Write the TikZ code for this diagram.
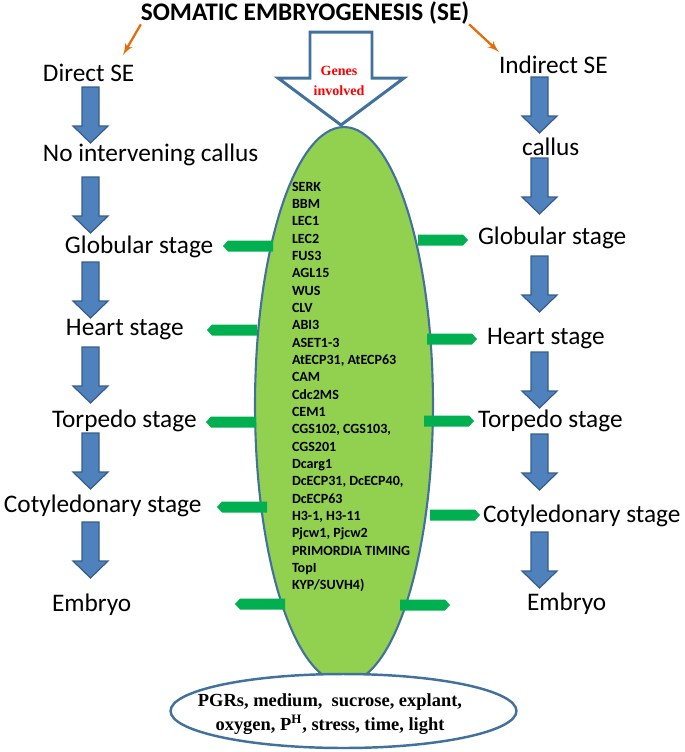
\documentclass[tikz,border=0pt]{standalone}
\usepackage{fontspec}
\setmainfont{Carlito}
\newfontfamily\timesfont{Liberation Serif}
\usepackage{tikz}
\usetikzlibrary{arrows}
\usetikzlibrary{positioning}
\usetikzlibrary{shapes.geometric}
\definecolor{stepblue}{HTML}{4F81BD}
\definecolor{stepborder}{HTML}{385D8A}
\definecolor{outlineblue}{HTML}{41719C}
\definecolor{leafgreen}{HTML}{92D050}
\definecolor{pointgreen}{HTML}{00B050}
\definecolor{titleorange}{HTML}{E46C0A}
\tikzstyle{every node}+=[inner sep=0pt, outer sep=0pt]
\tikzstyle{stage} = [font=\fontsize{14.4}{17}\selectfont, anchor=west]
\tikzstyle{orangeline} = [draw, titleorange, line width=1.3pt, -latex']
\tikzset{
  blockdown/.pic={\filldraw [fill=stepblue, draw=stepborder, line width=0.7pt]
    (-8.5,0) -- (8.5,0) -- (8.5,39) -- (17.5,39) -- (0,56) -- (-17.5,39) -- (-8.5,39) -- cycle;},
  pointer/.pic={\fill [pointgreen]
    (0,-5.5) -- (45,-5.5) -- (50,0) -- (45,5.5) -- (0,5.5) -- cycle;},
  bigarrow/.pic={\filldraw [fill=white, draw=outlineblue, line width=1.7pt]
    (-31,-93) -- (31,-93) -- (31,-47) -- (63,-47) -- (0,0) -- (-63,-47) -- (-31,-47) -- cycle;}
}

\begin{document}
\begin{tikzpicture}[x=0.02cm, y=-0.02cm]
            \useasboundingbox (0,0) rectangle (685,752);
            % Genes ellipse
            \node [ellipse, draw=outlineblue, fill=leafgreen, line width=1.2pt, minimum width=3.56cm, minimum height=11.12cm] (geneell) at (344,405) {};
            \node [anchor=north west, align=left, font=\fontsize{8}{9.86}\selectfont\bfseries] (genes) at (292,182) {SERK\\BBM\\LEC1\\LEC2\\FUS3\\AGL15\\WUS\\CLV\\ABI3\\ASET1-3\\AtECP31, AtECP63\\CAM\\Cdc2MS\\CEM1\\CGS102, CGS103,\\CGS201\\Dcarg1\\DcECP31, DcECP40,\\DcECP63\\H3-1, H3-11\\Pjcw1, Pjcw2\\PRIMORDIA TIMING\\TopI\\KYP/SUVH4)};
            % Green pointers
            \pic [rotate=180] (lp1) at (273,246) {pointer};
            \pic [rotate=180] (lp2) at (257,330) {pointer};
            \pic [rotate=180] (lp3) at (256,422) {pointer};
            \pic [rotate=180] (lp4) at (267,507) {pointer};
            \pic [rotate=180] (lp5) at (285,604) {pointer};
            \pic (rp1) at (418,240) {pointer};
            \pic (rp2) at (427,339) {pointer};
            \pic (rp3) at (424,421) {pointer};
            \pic (rp4) at (430,515) {pointer};
            \pic (rp5) at (400,605) {pointer};
            % Big arrow
            \pic (genearrow) at (341,125) {bigarrow};
            \node [align=center, text=red, font={\timesfont\fontsize{8}{11.3}\selectfont\bfseries}] (genesinv) at (339,81) {Genes\\involved};
            % Factors
            \node [ellipse, draw=outlineblue, fill=white, line width=1.4pt, minimum width=6.92cm, minimum height=1.48cm] (factors) at (343.5,711) {};
            \node [align=center, font={\timesfont\fontsize{10.5}{14}\selectfont\bfseries}] (factortext) at (330,714) {PGRs, medium,\ \ sucrose, explant,\\oxygen, P\textsuperscript{H}, stress, time, light};
            % Title
            \node [font=\fontsize{14.4}{17}\selectfont\bfseries] (title) at (305,13) {SOMATIC EMBRYOGENESIS (SE)};
            % Direct route
            \node [stage] (dse) at (43,73) {Direct SE};
            \node [stage] (nic) at (43,155) {No intervening callus};
            \node [stage] (lglob) at (65,247) {Globular stage};
            \node [stage] (lheart) at (66,330) {Heart stage};
            \node [stage] (ltorp) at (52,421) {Torpedo stage};
            \node [stage] (lcot) at (4,506) {Cotyledonary stage};
            \node [stage] (lemb) at (52,605) {Embryo};
            \pic (la1) at (90.5,87) {blockdown};
            \pic (la2) at (90.5,177) {blockdown};
            \pic (la3) at (90.5,262) {blockdown};
            \pic (la4) at (90.5,347) {blockdown};
            \pic (la5) at (90.5,433) {blockdown};
            \pic (la6) at (90.5,522) {blockdown};
            % Indirect route
            \node [stage] (ise) at (499,65) {Indirect SE};
            \node [stage] (callus) at (522,147) {callus};
            \node [stage] (rglob) at (478,238) {Globular stage};
            \node [stage] (rheart) at (487,339) {Heart stage};
            \node [stage] (rtorp) at (478,421) {Torpedo stage};
            \node [stage] (rcot) at (483,516) {Cotyledonary stage};
            \node [stage] (remb) at (527,604) {Embryo};
            \pic (ra1) at (539.5,77) {blockdown};
            \pic (ra2) at (539.5,158) {blockdown};
            \pic (ra3) at (539.5,256) {blockdown};
            \pic (ra4) at (539.5,352) {blockdown};
            \pic (ra5) at (539.5,434) {blockdown};
            \pic (ra6) at (539.5,532) {blockdown};
            % Draw edges
            \coordinate (dseend) at (123,55);
            \coordinate (iseend) at (499,52);
            \path [orangeline] (title.south west) -- (dseend);
            \path [orangeline] (title.south east) -- (iseend);
          \end{tikzpicture}
\end{document}
